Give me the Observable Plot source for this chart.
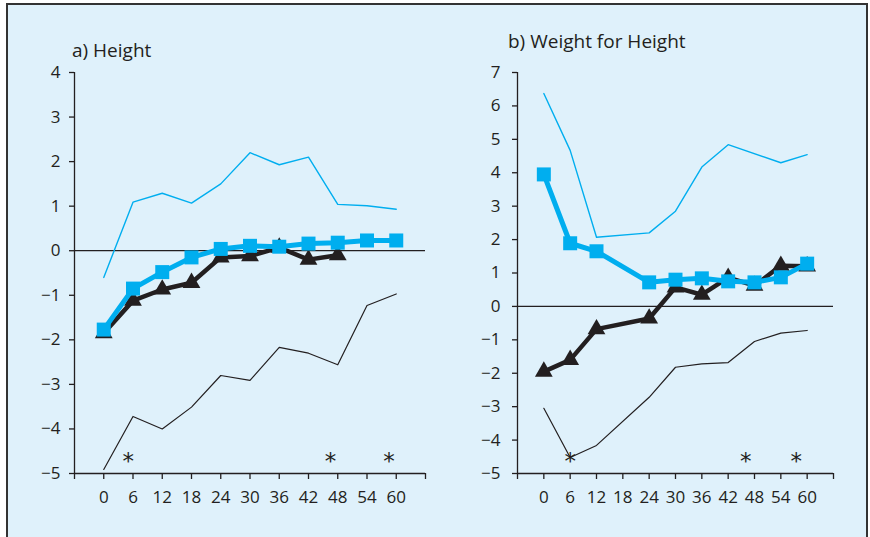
<!DOCTYPE html>
<html>
<head>
<meta charset="utf-8">
<script src="https://cdn.jsdelivr.net/npm/d3@7"></script>
<script src="https://cdn.jsdelivr.net/npm/@observablehq/plot@0.6"></script>
<style>
  html, body { margin: 0; padding: 0; width: 870px; height: 537px; overflow: hidden; background: #ffffff; }
  #frame { position: absolute; left: 6px; top: 3px; width: 862px; height: 560px; box-sizing: border-box;
           border: 2px solid #333333; background: #dff1fb; }
  .panel { position: absolute; top: 0; }
  .title { position: absolute; font-family: "Open Sans", Lato, sans-serif; font-size: 19px; line-height: 18px; color: #231f20; white-space: nowrap; }
  .panel g[aria-label="x-axis tick label"], .panel g[aria-label="y-axis tick label"] { font-size: 17px; }
</style>
</head>
<body>
<div id="frame"></div>
<div class="title" style="left:72px; top:41px;">a) Height</div>
<div class="title" style="left:508px; top:32px;">b) Weight for Height</div>
<div id="left" class="panel" style="left:8px;"></div>
<div id="right" class="panel" style="left:440px;"></div>
<script>
// ---- data ----
const xTicks = [-6, 0, 6, 12, 18, 24, 30, 36, 42, 48, 54, 60, 66];

// a) Height
const hAges      = [0, 6, 12, 18, 24, 30, 36, 42, 48, 54, 60];
const hBlue      = [-1.77, -0.85, -0.48, -0.15, 0.04, 0.11, 0.09, 0.16, 0.18, 0.23, 0.23];
const hBlackAges = [0, 6, 12, 18, 24, 30, 36, 42, 48];
const hBlack     = [-1.85, -1.12, -0.87, -0.72, -0.15, -0.12, 0.07, -0.2, -0.1];
const hUpper     = [-0.6, 1.09, 1.29, 1.07, 1.5, 2.2, 1.93, 2.1, 1.04, 1.01, 0.93];
const hLower     = [-4.91, -3.72, -4.0, -3.51, -2.8, -2.91, -2.17, -2.3, -2.56, -1.23, -0.97];
const hYTicks    = [-5, -4, -3, -2, -1, 0, 1, 2, 3, 4];
const hStarAges  = [5, 46.5, 58.5];
const hStarLevel = -4.6;

// b) Weight for Height
const wAges       = [0, 6, 12, 24, 30, 36, 42, 48, 54, 60];
const wBlue       = [3.95, 1.89, 1.65, 0.72, 0.8, 0.84, 0.75, 0.72, 0.87, 1.28];
const wBlack      = [-1.95, -1.6, -0.68, -0.36, 0.57, 0.35, 0.86, 0.62, 1.22, 1.2];
const wUpperAges  = [0, 6, 12, 24, 30, 36, 42, 54, 60];
const wUpper      = [6.37, 4.67, 2.07, 2.2, 2.85, 4.17, 4.84, 4.3, 4.54];
const wLower      = [-3.05, -4.52, -4.16, -2.72, -1.82, -1.72, -1.68, -1.05, -0.8, -0.72];
const wYTicks     = [-5, -4, -3, -2, -1, 0, 1, 2, 3, 4, 5, 6, 7];
const wStarAges   = [6, 46, 57.5];
const wStarLevel  = -4.46;

const BLUE = "#00aeef";
const INK = "#231f20";
const FONT = "'Open Sans', Lato, sans-serif";

function zip(xs, ys) { return xs.map((x, i) => ({x, y: ys[i]})); }

function panel({width, marginLeft, marginRight, yDomain, yTicks, yPad, upper, lower, blue, black, stars, starLevel}) {
  return Plot.plot({
    width, height: 537,
    marginLeft, marginRight, marginTop: 72, marginBottom: 64,
    x: {domain: [-6, 66]},
    y: {domain: yDomain},
    style: {background: "transparent", fontFamily: FONT, fontSize: "17px", color: INK, overflow: "visible"},
    marks: [
      Plot.ruleY([0], {stroke: INK, strokeWidth: 1.3}),
      Plot.ruleX([-6], {stroke: INK, strokeWidth: 1.3}),
      Plot.ruleY([yDomain[0]], {stroke: INK, strokeWidth: 1.3}),
      Plot.axisX({ticks: xTicks, tickSize: 6, tickPadding: 11, stroke: INK, strokeWidth: 1.3, fontSize: 17,
                  tickFormat: d => (d < 0 || d > 60) ? "" : String(d), label: null}),
      Plot.axisY({ticks: yTicks, tickSize: 5, tickPadding: yPad, stroke: INK, strokeWidth: 1.3, fontSize: 17, label: null}),
      Plot.line(upper, {x: "x", y: "y", stroke: BLUE, strokeWidth: 1.4}),
      Plot.line(lower, {x: "x", y: "y", stroke: INK, strokeWidth: 1.2}),
      Plot.line(black, {x: "x", y: "y", stroke: INK, strokeWidth: 4.5}),
      Plot.dot(black, {x: "x", y: "y", symbol: "triangle", r: 6.6, fill: INK, stroke: "none"}),
      Plot.line(blue, {x: "x", y: "y", stroke: BLUE, strokeWidth: 5}),
      Plot.dot(blue, {x: "x", y: "y", symbol: "square", r: 7.9, fill: BLUE, stroke: "none"}),
      Plot.text(stars, {x: d => d, y: () => starLevel, text: () => "*", fontSize: 23, fontFamily: "DejaVu Sans", fill: INK, dy: 6})
    ]
  });
}

document.getElementById("left").appendChild(panel({
  width: 430, marginLeft: 66, marginRight: 13,
  yDomain: [-5, 4], yTicks: hYTicks, yPad: 9,
  upper: zip(hAges, hUpper), lower: zip(hAges, hLower),
  blue: zip(hAges, hBlue), black: zip(hBlackAges, hBlack),
  stars: hStarAges, starLevel: hStarLevel
}));

document.getElementById("right").appendChild(panel({
  width: 428, marginLeft: 77, marginRight: 35,
  yDomain: [-5, 7], yTicks: wYTicks, yPad: 12,
  upper: zip(wUpperAges, wUpper), lower: zip(wAges, wLower),
  blue: zip(wAges, wBlue), black: zip(wAges, wBlack),
  stars: wStarAges, starLevel: wStarLevel
}));
</script>
</body>
</html>
